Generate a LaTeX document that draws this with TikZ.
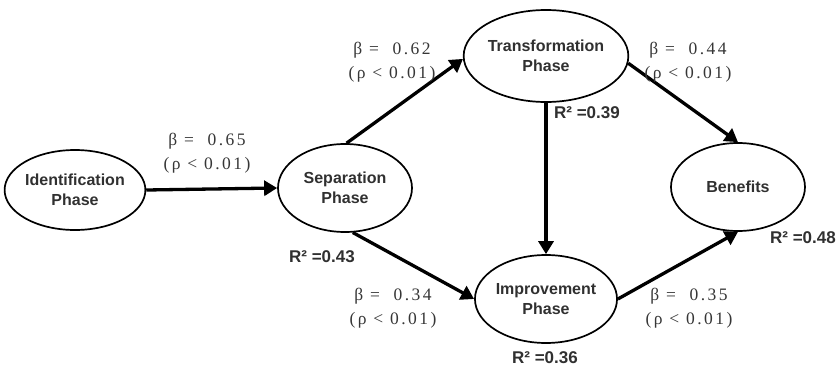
\documentclass[tikz,border=0pt]{standalone}
\usepackage{fontspec}
\setmainfont{Liberation Sans}
\newfontfamily\lblfont{Liberation Serif}[LetterSpace=14]
\usetikzlibrary{shapes.geometric,arrows.meta}
\definecolor{txt}{HTML}{303030}
\definecolor{lbl}{HTML}{363636}
\begin{document}
\begin{tikzpicture}[x=1pt,y=-1pt,
  phase/.style={ellipse,draw,line width=1.7pt,minimum width=134pt,minimum height=88pt,inner sep=0pt,align=center,font=\fontsize{16}{20}\selectfont\bfseries,text=txt},
  pathar/.style={line width=3.3pt,-{Triangle[length=13pt,width=15pt]}},
  coef/.style={align=center,font=\lblfont\fontsize{17.5}{24}\selectfont,text=lbl,inner sep=0pt},
  rsq/.style={font=\fontsize{17}{20}\selectfont\bfseries,text=txt,inner sep=0pt}]
\useasboundingbox (0,0) rectangle (839,370);
\node[phase,minimum width=140pt,minimum height=80pt] (id) at (75,190) {Identification\\Phase};
\node[phase] (sep) at (345,188) {Separation\\Phase};
\node[phase,minimum height=92pt] (tr) at (546,56) {Transformation\\Phase};
\node[phase] (imp) at (546,299) {Improvement\\Phase};
\node[phase] (ben) at (738,187) {Benefits};
\draw[pathar] (id.east) -- (sep.west);
\draw[pathar] (sep.88) -- (tr.182);
\draw[pathar] (sep.-80) -- (imp.west);
\draw[pathar] (tr.south) -- (imp.north);
\draw[pathar] (tr.-5) -- (ben.north);
\draw[pathar] (imp.east) -- (ben.south);
\node[coef] (c1) at (207,153) {β = \ 0.65\\(ρ < 0.01)};
\node[coef] (c2) at (392,62) {β = \ 0.62\\(ρ < 0.01)};
\node[coef] (c3) at (688,62) {β = \ 0.44\\(ρ < 0.01)};
\node[coef] (c4) at (393,308) {β = \ 0.34\\(ρ < 0.01)};
\node[coef] (c5) at (689,308) {β = \ 0.35\\(ρ < 0.01)};
\node[rsq] (r1) at (587,113) {R² =0.39};
\node[rsq] (r2) at (322,257) {R² =0.43};
\node[rsq] (r3) at (545,358) {R² =0.36};
\node[rsq] (r4) at (803,238) {R² =0.48};
\end{tikzpicture}
\end{document}
